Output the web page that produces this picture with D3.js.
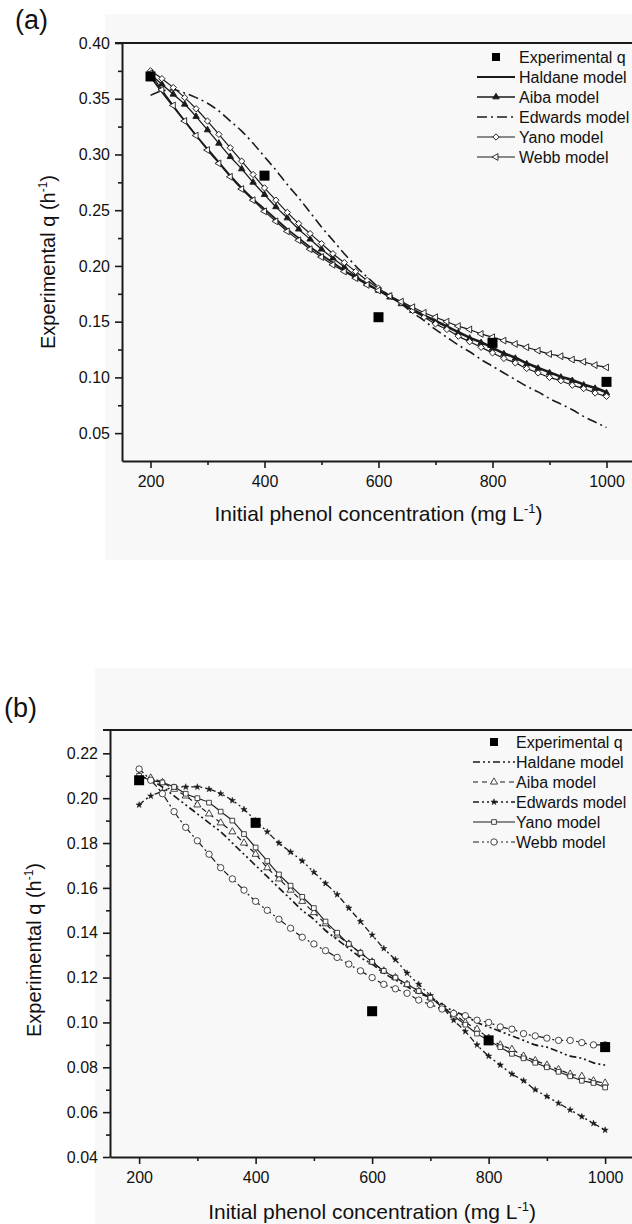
<!DOCTYPE html>
<html>
<head>
<meta charset="utf-8">
<script src="https://cdn.jsdelivr.net/npm/d3@7"></script>
<style>
  body { margin: 0; background: #fff; }
  svg { display: block; }
  text { font-family: "Liberation Sans", Arial, sans-serif; fill: #111; }
</style>
</head>
<body>
<div id="chart"></div>
<script>
// initial phenol concentration grid of the model curves (mg/L)
const concX = [200, 220, 240, 260, 280, 300, 320, 340, 360, 380,
               400, 420, 440, 460, 480, 500, 520, 540, 560, 580,
               600, 620, 640, 660, 680, 700, 720, 740, 760, 780,
               800, 820, 840, 860, 880, 900, 920, 940, 960, 980,
               1000];
const expConc = [200, 400, 600, 800, 1000];

// panel (a)
const expA = [0.370, 0.281, 0.154, 0.131, 0.096];
const haldaneA = [.370,.356,.343,.330,.317,.305,.293,.281,.270,.260,
                  .251,.242,.233,.225,.217,.210,.203,.196,.190,.184,
                  .178,.172,.167,.161,.156,.151,.146,.141,.136,.132,
                  .127,.122,.118,.113,.109,.105,.101,.098,.094,.091,
                  .087];
const aibaA = [.372,.363,.354,.345,.334,.322,.310,.298,.287,.275,
               .264,.253,.243,.233,.224,.215,.207,.199,.191,.184,
               .178,.172,.166,.160,.155,.150,.145,.140,.135,.131,
               .126,.121,.117,.112,.108,.104,.100,.097,.093,.090,
               .086];
const edwardsA = [.353,.357,.358,.355,.351,.346,.339,.330,.321,.310,
                  .298,.286,.273,.261,.248,.235,.223,.211,.200,.190,
                  .181,.173,.166,.158,.151,.143,.136,.129,.123,.116,
                  .110,.104,.098,.092,.087,.081,.076,.071,.065,.060,
                  .055];
const yanoA = [.375,.368,.360,.351,.341,.330,.318,.306,.294,.282,
               .270,.259,.248,.238,.229,.220,.211,.203,.195,.187,
               .180,.173,.167,.160,.154,.148,.143,.137,.132,.127,
               .122,.117,.113,.108,.104,.100,.097,.093,.090,.086,
               .083];
const webbA = [.373,.358,.344,.330,.317,.304,.292,.280,.269,.259,
               .249,.240,.231,.223,.215,.208,.201,.195,.189,.183,
               .178,.173,.168,.163,.158,.154,.150,.146,.143,.139,
               .136,.133,.130,.127,.124,.121,.119,.116,.114,.111,
               .109];

// panel (b)
const expB = [0.208, 0.189, 0.105, 0.092, 0.089];
const haldaneB = [.210,.208,.205,.201,.197,.193,.189,.185,.180,.175,
                  .170,.165,.160,.155,.150,.146,.141,.137,.133,.129,
                  .126,.122,.119,.116,.113,.111,.108,.105,.103,.100,
                  .098,.096,.094,.092,.090,.089,.087,.085,.084,.082,
                  .081];
const aibaB = [.210,.209,.207,.204,.201,.197,.193,.189,.185,.180,
               .175,.169,.164,.159,.154,.149,.144,.139,.135,.131,
               .127,.123,.120,.117,.114,.111,.107,.104,.100,.097,
               .093,.090,.088,.085,.083,.081,.079,.077,.076,.074,
               .073];
const edwardsB = [.197,.201,.203,.205,.205,.205,.204,.202,.199,.195,
                  .190,.185,.180,.176,.172,.167,.162,.157,.151,.145,
                  .139,.133,.128,.122,.117,.112,.107,.101,.096,.090,
                  .085,.081,.077,.074,.070,.067,.064,.061,.058,.055,
                  .052];
const yanoB = [.210,.208,.207,.205,.202,.200,.198,.194,.190,.184,
               .178,.172,.166,.161,.156,.151,.145,.140,.135,.131,
               .127,.123,.120,.117,.114,.111,.107,.103,.099,.095,
               .092,.089,.086,.084,.082,.080,.078,.076,.074,.073,
               .071];
const webbB = [.213,.208,.202,.194,.187,.181,.175,.169,.164,.159,
               .154,.150,.146,.142,.138,.135,.132,.129,.126,.123,
               .120,.117,.115,.113,.110,.108,.106,.104,.103,.101,
               .100,.098,.097,.095,.094,.093,.092,.092,.091,.090,
               .090];

// ticks
const xMajor = [200, 400, 600, 800, 1000];
const xMinor = [300, 500, 700, 900];
const yMajorA = [0.05, 0.10, 0.15, 0.20, 0.25, 0.30, 0.35, 0.40];
const yMinorA = [0.075, 0.125, 0.175, 0.225, 0.275, 0.325, 0.375];
const yMajorB = [0.04, 0.06, 0.08, 0.10, 0.12, 0.14, 0.16, 0.18, 0.20, 0.22];
const yMinorB = [0.05, 0.07, 0.09, 0.11, 0.13, 0.15, 0.17, 0.19, 0.21];

const legendLabels = ["Experimental q", "Haldane model", "Aiba model", "Edwards model", "Yano model", "Webb model"];

const width = 632, height = 1224;
const ink = "#1a1a1a";

const svg = d3.select("#chart").append("svg")
  .attr("width", width)
  .attr("height", height);

// marker shapes
const markers = {
  triFill:  {type: d3.symbolTriangle, size: 18, rot: 0,   fill: ink,    sw: 0.9},
  diamond:  {type: d3.symbolSquare,   size: 20, rot: 45,  fill: "#fff", sw: 0.9},
  triLeft:  {type: d3.symbolTriangle, size: 20, rot: -90, fill: "#fff", sw: 0.9},
  triOpen:  {type: d3.symbolTriangle, size: 22, rot: 0,   fill: "#fff", sw: 0.8},
  star:     {type: d3.symbolStar,     size: 12, rot: 0,   fill: ink,    sw: 0.5},
  square:   {type: d3.symbolSquare,   size: 22, rot: 0,   fill: "#fff", sw: 0.8},
  circle:   {type: d3.symbolCircle,   size: 32, rot: 0,   fill: "#fff", sw: 0.8}
};

const stylesA = [
  {width: 1.8, dash: null, marker: null},
  {width: 1.3, dash: null, marker: "triFill"},
  {width: 1.6, dash: "10,4,2,4", marker: null},
  {width: 1.2, dash: null, marker: "diamond"},
  {width: 1.2, dash: null, marker: "triLeft"}
];
const stylesB = [
  {width: 1.7, dash: "7,3,2,3,2,3", marker: null},
  {width: 1.2, dash: "5,4", marker: "triOpen"},
  {width: 1.3, dash: "6,3,2,3,2,3", marker: "star"},
  {width: 1.1, dash: null, marker: "square"},
  {width: 1.2, dash: "6,3,2,3,2,3", marker: "circle"}
];

const panels = [
  {tag: "(a)", tagX: 15, tagY: 29, left: 122, kx: 0.57, top: 43, bottom: 461,
   yDomain: [0.025, 0.40], yMajor: yMajorA, yMinor: yMinorA,
   series: [haldaneA, aibaA, edwardsA, yanoA, webbA], styles: stylesA, exp: expA,
   legendY: 57, legLine: [477, 515], legText: 519,
   titleY: 521, yTitleX: 55, yTitleY: 262, bg: [105, 14, 632, 560]},
  {tag: "(b)", tagX: 4, tagY: 717, left: 110, kx: 0.5825, top: 730, bottom: 1157,
   yDomain: [0.04, 0.2304], yMajor: yMajorB, yMinor: yMinorB,
   series: [haldaneB, aibaB, edwardsB, yanoB, webbB], styles: stylesB, exp: expB,
   legendY: 742, legLine: [473, 515], legText: 516,
   titleY: 1219, yTitleX: 41, yTitleY: 950, bg: [95, 668, 632, 1224]}
];

function drawMarker(g, key, cx, cy) {
  const m = markers[key];
  g.append("path")
    .attr("d", d3.symbol().type(m.type).size(m.size)())
    .attr("transform", `translate(${cx},${cy}) rotate(${m.rot})`)
    .attr("fill", m.fill)
    .attr("stroke", ink)
    .attr("stroke-width", m.sw);
}

function drawPanel(p) {
  const x = d3.scaleLinear().domain([150, 1050]).range([p.left, p.left + 900 * p.kx]);
  const y = d3.scaleLinear().domain(p.yDomain).range([p.bottom, p.top]);

  // faint grey page of the scanned figure
  svg.append("rect")
    .attr("x", p.bg[0]).attr("y", p.bg[1])
    .attr("width", p.bg[2] - p.bg[0]).attr("height", p.bg[3] - p.bg[1])
    .attr("fill", "#f8f8f8");

  svg.append("text")
    .attr("x", p.tagX).attr("y", p.tagY)
    .style("font-size", "27px")
    .text(p.tag);

  // model curves
  const line = d3.line()
    .x((d, i) => x(concX[i]))
    .y(d => y(d))
    .curve(d3.curveMonotoneX);

  const g = svg.append("g");
  p.series.forEach((s, k) => {
    const st = p.styles[k];
    g.append("path")
      .datum(s)
      .attr("d", line)
      .attr("fill", "none")
      .attr("stroke", ink)
      .attr("stroke-width", st.width)
      .attr("stroke-dasharray", st.dash);
  });
  p.series.forEach((s, k) => {
    const st = p.styles[k];
    if (!st.marker) return;
    s.forEach((v, i) => drawMarker(g, st.marker, x(concX[i]), y(v)));
  });

  // experimental points
  g.selectAll("rect.exp")
    .data(p.exp)
    .enter().append("rect")
    .attr("class", "exp")
    .attr("x", (d, i) => x(expConc[i]) - 5)
    .attr("y", d => y(d) - 5)
    .attr("width", 10).attr("height", 10)
    .attr("fill", "#000");

  // axes
  const yAxis = svg.append("g")
    .attr("transform", `translate(${p.left},0)`)
    .call(d3.axisLeft(y).tickValues(p.yMajor).tickSize(7).tickSizeOuter(0).tickPadding(5)
      .tickFormat(d3.format(".2f")));
  svg.append("g")
    .attr("transform", `translate(${p.left},0)`)
    .call(d3.axisLeft(y).tickValues(p.yMinor).tickSize(4).tickSizeOuter(0).tickFormat(""))
    .select(".domain").remove();

  const xAxis = svg.append("g")
    .attr("transform", `translate(0,${p.bottom})`)
    .call(d3.axisBottom(x).tickValues(xMajor).tickSize(7).tickSizeOuter(0).tickPadding(8)
      .tickFormat(d3.format("d")));
  svg.append("g")
    .attr("transform", `translate(0,${p.bottom})`)
    .call(d3.axisBottom(x).tickValues(xMinor).tickSize(4).tickSizeOuter(0).tickFormat(""))
    .select(".domain").remove();

  [yAxis, xAxis].forEach(a => {
    a.select(".domain").attr("stroke", ink).attr("stroke-width", 2);
    a.selectAll(".tick text").style("font-size", "16px").attr("fill", "#111")
      .style("font-family", "'Liberation Sans', Arial, sans-serif");
  });
  svg.selectAll(".tick line").attr("stroke", ink).attr("stroke-width", 1.6);

  // top frame line
  svg.append("line")
    .attr("x1", p.left - 7).attr("x2", width)
    .attr("y1", y(p.yDomain[1])).attr("y2", y(p.yDomain[1]))
    .attr("stroke", ink).attr("stroke-width", 2);

  // axis titles
  const xt = svg.append("text")
    .attr("x", x(600)).attr("y", p.titleY)
    .attr("text-anchor", "middle")
    .style("font-size", "21px");
  xt.append("tspan").text("Initial phenol concentration (mg L");
  xt.append("tspan").attr("dy", -8).style("font-size", "13px").text("-1");
  xt.append("tspan").attr("dy", 8).text(")");

  const yt = svg.append("text")
    .attr("transform", `translate(${p.yTitleX},${p.yTitleY}) rotate(-90)`)
    .attr("text-anchor", "middle")
    .style("font-size", "20px");
  yt.append("tspan").text("Experimental q (h");
  yt.append("tspan").attr("dy", -8).style("font-size", "12px").text("-1");
  yt.append("tspan").attr("dy", 8).text(")");

  // legend
  const lg = svg.append("g");
  legendLabels.forEach((label, i) => {
    const ly = p.legendY + i * 20;
    if (i === 0) {
      lg.append("rect")
        .attr("x", (p.legLine[0] + p.legLine[1]) / 2 - 4).attr("y", ly - 4)
        .attr("width", 8).attr("height", 8).attr("fill", "#000");
    } else {
      const st = p.styles[i - 1];
      lg.append("line")
        .attr("x1", p.legLine[0]).attr("x2", p.legLine[1])
        .attr("y1", ly).attr("y2", ly)
        .attr("stroke", ink).attr("stroke-width", st.width)
        .attr("stroke-dasharray", st.dash);
      if (st.marker) drawMarker(lg, st.marker, (p.legLine[0] + p.legLine[1]) / 2, ly);
    }
    lg.append("text")
      .attr("x", p.legText).attr("y", ly + 6)
      .style("font-size", "16px")
      .text(label);
  });
}

panels.forEach(drawPanel);
</script>
</body>
</html>
